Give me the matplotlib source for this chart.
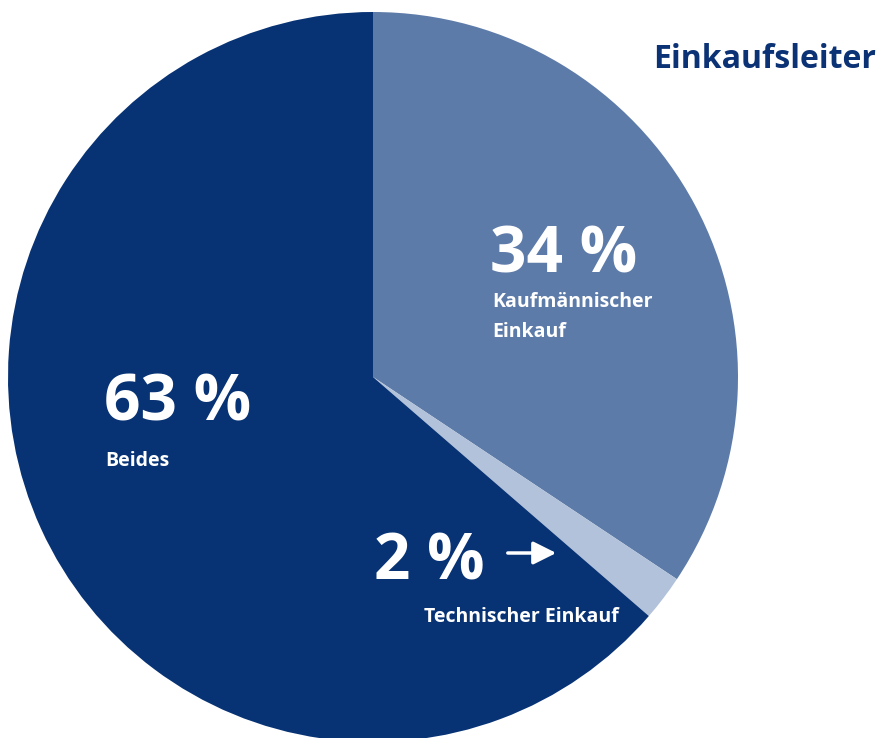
import matplotlib.pyplot as plt

labels = ['Kaufmännischer\nEinkauf', 'Technischer Einkauf', 'Beides']
values = [34, 2, 63]
colors = ['#5D7BA9', '#B2C2DA', '#073274']

W, H = 879, 738
fig = plt.figure(figsize=(W / 100, H / 100), dpi=100)
ax = fig.add_axes([0, 0, 1, 1])

ax.pie(values, colors=colors, startangle=90, counterclock=False,
       center=(373, H - 377), radius=365, wedgeprops=dict(linewidth=0))
ax.set_xlim(0, W)
ax.set_ylim(0, H)
ax.set_aspect('equal')
ax.axis('off')

fam = ['Open Sans', 'DejaVu Sans']
big = dict(color='white', fontsize=46, fontweight='bold', family=fam,
           ha='left', va='baseline')
small = dict(color='white', fontsize=14, fontweight='bold', family=fam,
             ha='left', va='center')

ax.text(490, H - 273, f'{values[0]} %', **big)
ax.text(492, H - 317, labels[0], linespacing=1.65, **small)

ax.text(104, H - 421, f'{values[2]} %', **big)
ax.text(105, H - 461, labels[2], **small)

ax.text(374, H - 580, f'{values[1]} %', **big)
ax.annotate('', xy=(559, H - 553), xytext=(505, H - 553),
            arrowprops=dict(arrowstyle='-|>,head_length=0.7,head_width=0.35',
                            color='white', lw=2.5, mutation_scale=20))
ax.text(424, H - 617, labels[1], **small)

ax.text(876, H - 60, 'Einkaufsleiter', color='#0A3275', fontsize=23,
        fontweight='bold', family=fam, ha='right', va='center')

fig.savefig('out.png', dpi=100)
